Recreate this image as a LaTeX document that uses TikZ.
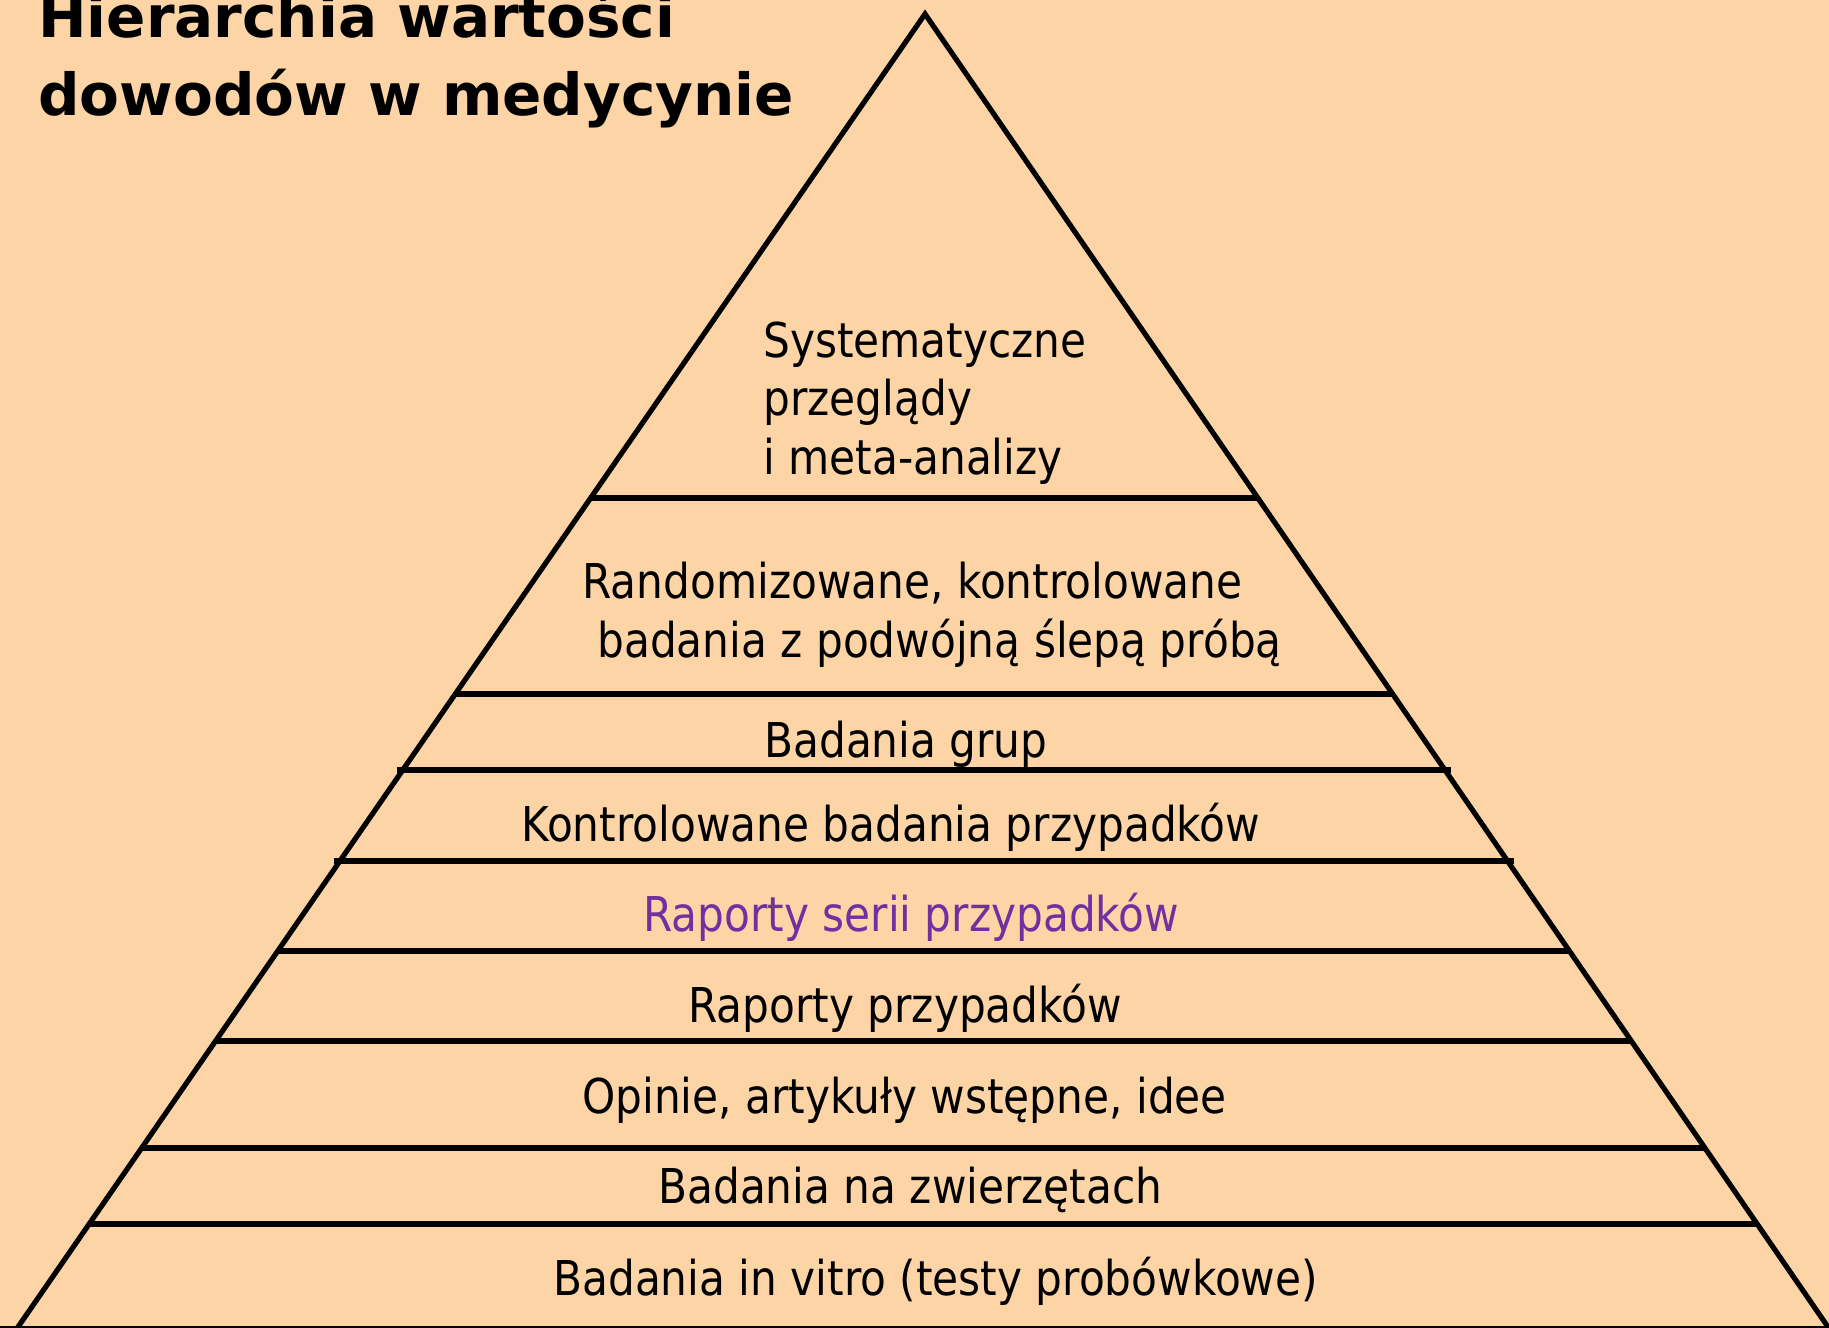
\documentclass[tikz,border=0pt]{standalone}
\usepackage{fontspec}
\usetikzlibrary{calc}
\newfontfamily\bodyfont{DejaVu Sans}[FakeStretch=0.88]
\newfontfamily\titlefont{DejaVu Sans}
\definecolor{peach}{RGB}{253,212,166}
\definecolor{lvlpurple}{RGB}{112,48,160}
\tikzset{
  edge/.style={line width=2.6pt, line cap=butt, line join=miter, draw=black},
  lvl/.style={anchor=base west, inner sep=0pt, font=\bodyfont\fontsize{24}{29}\selectfont, text=black},
  ttl/.style={anchor=base west, inner sep=0pt, font=\titlefont\bfseries\fontsize{29}{35}\selectfont, text=black}
}
\begin{document}
\begin{tikzpicture}[x=0.5pt,y=-0.5pt]
\fill[peach] (0,0) rectangle (1829,1327);
\useasboundingbox (0,0) rectangle (1829,1327);
\coordinate (A) at (925,14);
\coordinate (L) at (18,1327);
\coordinate (R) at (1828,1327);
% horizontal divisions
\foreach \y/\o in {498/0,694/0,770/6,861/6,951/0,1041/0,1148/0,1224/0}{
  \draw[edge] ($(A)!{(\y-14)/1313}!(L)+(-\o,0)$) -- ($(A)!{(\y-14)/1313}!(R)+(\o,0)$);
}
\draw[edge] (0,1329) -- (1829,1329);
% sides
\draw[edge] ($(A)!1.01!(L)$) -- (A) -- ($(A)!1.01!(R)$);
% title
\node[ttl] (t1) at (38,38) {Hierarchia wartości};
\node[ttl] (t2) at (38,116) {dowodów w medycynie};
% levels
\node[lvl] (s1) at (763,357) {Systematyczne};
\node[lvl] (s2) at (763,415) {przeglądy};
\node[lvl] (s3) at (763,474) {i meta-analizy};
\node[lvl] (r1) at (582,598) {Randomizowane, kontrolowane};
\node[lvl] (r2) at (597,657) {badania z podwójną ślepą próbą};
\node[lvl] (g) at (764,757) {Badania grup};
\node[lvl] (k) at (521,841) {Kontrolowane badania przypadków};
\node[lvl,text=lvlpurple] (rs) at (643,931) {Raporty serii przypadków};
\node[lvl] (rp) at (688,1022) {Raporty przypadków};
\node[lvl] (o) at (582,1113) {Opinie, artykuły wstępne, idee};
\node[lvl] (z) at (658,1203) {Badania na zwierzętach};
\node[lvl] (v) at (553,1295) {Badania in vitro (testy probówkowe)};
\end{tikzpicture}
\end{document}
